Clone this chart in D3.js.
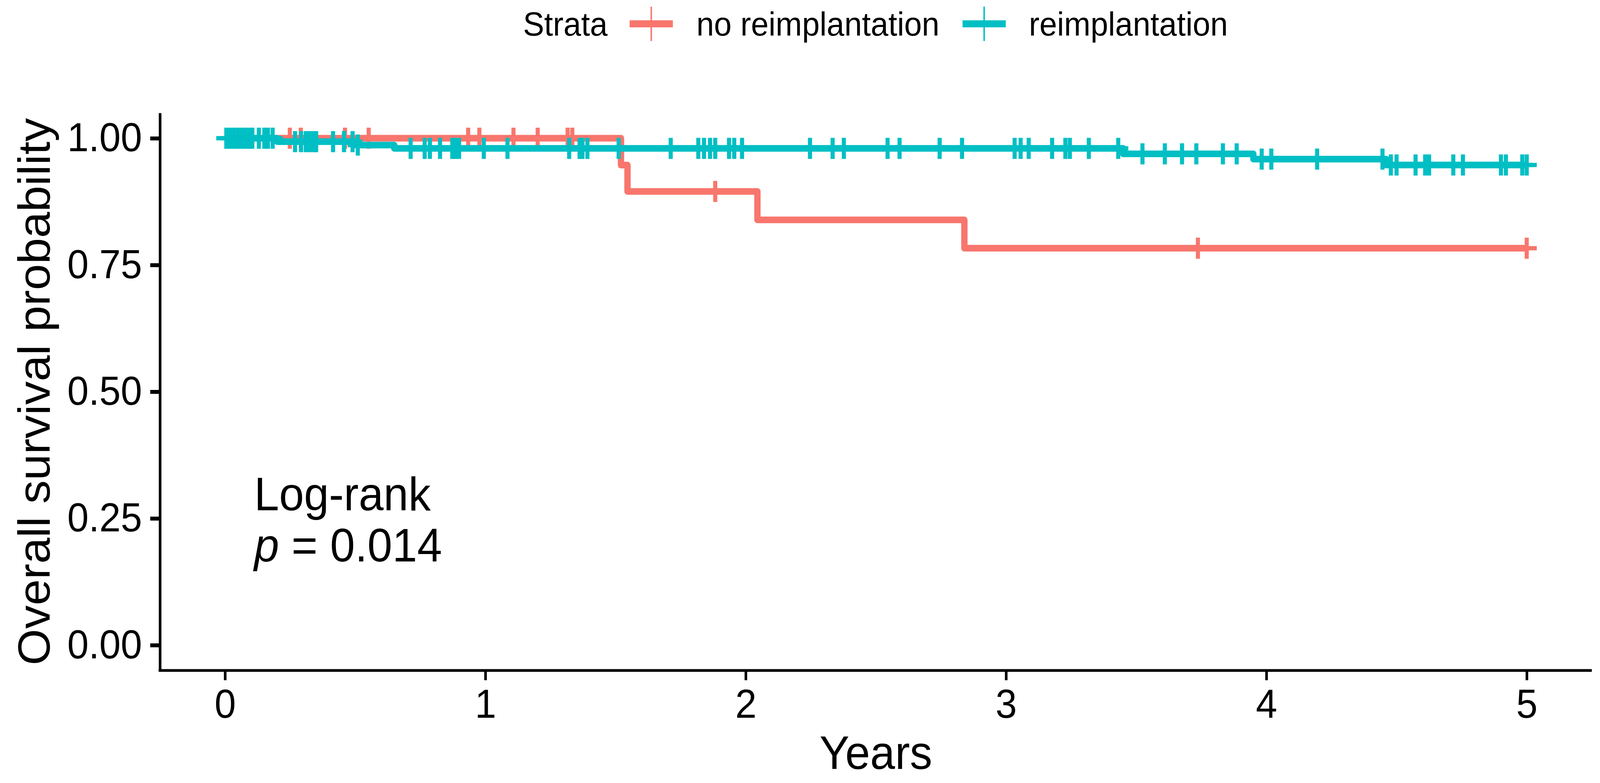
<!DOCTYPE html>
<html>
<head>
<meta charset="utf-8">
<script src="https://cdn.jsdelivr.net/npm/d3@7"></script>
<style>
	html, body { margin: 0; padding: 0; background: #fff; overflow: hidden; }
	svg { display: block; width: 100vw; height: 100vh; }
	text { font-family: "Liberation Sans", Arial, sans-serif; }
</style>
</head>
<body>
<div id="kmplot"></div>
<script>
// Strata and colours
let strata = ["no reimplantation", "reimplantation"];
let colors = ["#F8766D", "#00BFC4"];

// Kaplan-Meier steps (time in years, survival probability)
let noReimpTimes = [0, 1.521, 1.546, 2.045, 2.84];
let noReimpSurv = [1, 0.947, 0.895, 0.839, 0.783];
let reimpTimes = [0, 0.20, 0.50, 0.65, 3.45, 3.95, 4.46];
let reimpSurv = [1, 0.9933, 0.9866, 0.98, 0.9693, 0.9588, 0.9472];
let endTime = 5.0;

// Censored observations
let noReimpCensor = [0.249, 0.291, 0.461, 0.552, 0.934, 0.977, 1.108, 1.201,
	1.316, 1.334, 1.883, 3.737, 5.0];
let reimpCensor = [0.005, 0.02, 0.035, 0.05, 0.065, 0.08, 0.095, 0.105,
	0.13, 0.151, 0.165, 0.183, 0.269, 0.292, 0.31, 0.325, 0.34, 0.35,
	0.415, 0.457, 0.49, 0.51, 0.713, 0.767, 0.787, 0.826, 0.873, 0.885,
	0.899, 0.994, 1.085, 1.322, 1.362, 1.373, 1.392, 1.512, 1.712, 1.818,
	1.84, 1.863, 1.883, 1.936, 1.956, 1.986, 2.247, 2.334, 2.377, 2.545,
	2.591, 2.745, 2.831, 3.033, 3.056, 3.087, 3.177, 3.228, 3.245, 3.318,
	3.431, 3.524, 3.61, 3.676, 3.731, 3.833, 3.886, 3.982, 4.019, 4.195,
	4.446, 4.478, 4.5, 4.573, 4.61, 4.625, 4.718, 4.755, 4.901, 4.92,
	4.983, 5.0];

// Axis ticks
let xTicks = [0, 1, 2, 3, 4, 5];
let xTickLabels = ["0", "1", "2", "3", "4", "5"];
let yTicks = [0, 0.25, 0.5, 0.75, 1];
let yTickLabels = ["0.00", "0.25", "0.50", "0.75", "1.00"];

let width = 4292;
let height = 2004;

let svg = d3.select("#kmplot")
	.append("svg")
	.attr("viewBox", `0 0 ${width} ${height}`)
	.attr("preserveAspectRatio", "none");

// scales (ggplot style 5% expansion)
let x = d3.scaleLinear().domain([-0.25, 5.25]).range([429, 4270]);
let y = d3.scaleLinear().domain([-0.05, 1.05]).range([1716, 289]);

// step value at a given time
function survAt(times, surv, t) {
	let i = d3.bisectRight(times, t) - 1;
	return surv[Math.max(i, 0)];
}

let groups = [
	{times: noReimpTimes, surv: noReimpSurv, censor: noReimpCensor, color: colors[0]},
	{times: reimpTimes, surv: reimpSurv, censor: reimpCensor, color: colors[1]}
];

let line = d3.line()
	.x(d => x(d[0]))
	.y(d => y(d[1]))
	.curve(d3.curveStepAfter);

groups.forEach(g => {
	let pts = g.times.map((t, i) => [t, g.surv[i]]);
	pts.push([endTime, g.surv[g.surv.length - 1]]);

	svg.append("path")
		.datum(pts)
		.attr("d", line)
		.attr("fill", "none")
		.attr("stroke", g.color)
		.attr("stroke-width", 17)
		.attr("stroke-linejoin", "round");

	// censor marks drawn as "+"
	svg.append("g")
		.selectAll("path")
		.data(g.censor)
		.join("path")
		.attr("transform", t => `translate(${x(t)},${y(survAt(g.times, g.surv, t))})`)
		.attr("d", "M-27,0H27M0,-27V27")
		.attr("stroke", g.color)
		.attr("stroke-width", 11);
});

// axes
let xAxis = svg.append("g")
	.attr("transform", `translate(0,${y(-0.05)})`)
	.call(d3.axisBottom(x).tickValues(xTicks).tickFormat((d, i) => xTickLabels[i])
		.tickSize(25).tickPadding(22).tickSizeOuter(0));
let yAxis = svg.append("g")
	.attr("transform", `translate(${x(-0.25)},0)`)
	.call(d3.axisLeft(y).tickValues(yTicks).tickFormat((d, i) => yTickLabels[i])
		.tickSize(26).tickPadding(22).tickSizeOuter(0));

xAxis.select(".domain").attr("stroke-width", 7).attr("d", `M${x(-0.25) - 3.5},0H${x(5.25)}`);
yAxis.select(".domain").attr("stroke-width", 7);
xAxis.selectAll(".tick line").attr("stroke-width", 7);
yAxis.selectAll(".tick line").attr("stroke-width", 10);
[xAxis, yAxis].forEach(a => a.selectAll(".tick text")
	.attr("font-size", 103)
	.attr("fill", "#000")
	.style("font-family", "'Liberation Sans', Arial, sans-serif"));
xAxis.selectAll(".tick text").attr("dy", "0.72em");

// axis titles
svg.append("text")
	.attr("x", (x(-0.25) + x(5.25)) / 2)
	.attr("y", 1968)
	.attr("text-anchor", "middle")
	.attr("font-size", 120)
	.text("Years");

svg.append("text")
	.attr("transform", `translate(133,${(y(-0.05) + y(1.05)) / 2}) rotate(-90)`)
	.attr("text-anchor", "middle")
	.attr("font-size", 120)
	.text("Overall survival probability");

// log-rank annotation
svg.append("text")
	.attr("x", 682)
	.attr("y", 1306)
	.attr("font-size", 120)
	.text("Log-rank");
let pText = svg.append("text")
	.attr("x", 682)
	.attr("y", 1437)
	.attr("font-size", 120);
pText.append("tspan").attr("font-style", "italic").text("p");
pText.append("tspan").text(" = 0.014");

// legend
let legendY = 61;
svg.append("text")
	.attr("x", 1403)
	.attr("y", legendY)
	.attr("dy", "0.35em")
	.attr("font-size", 85)
	.text("Strata");

let legendKeys = [1747, 2640];
let legendText = [1868, 2760];
strata.forEach((s, i) => {
	svg.append("line")
		.attr("x1", legendKeys[i] - 58)
		.attr("x2", legendKeys[i] + 58)
		.attr("y1", legendY)
		.attr("y2", legendY)
		.attr("stroke", colors[i])
		.attr("stroke-width", 18);
	svg.append("line")
		.attr("x1", legendKeys[i])
		.attr("x2", legendKeys[i])
		.attr("y1", legendY - 44)
		.attr("y2", legendY + 44)
		.attr("stroke", colors[i])
		.attr("stroke-width", 4);
	svg.append("text")
		.attr("x", legendText[i])
		.attr("y", legendY)
		.attr("dy", "0.35em")
		.attr("font-size", 85)
		.text(s);
});
</script>
</body>
</html>
